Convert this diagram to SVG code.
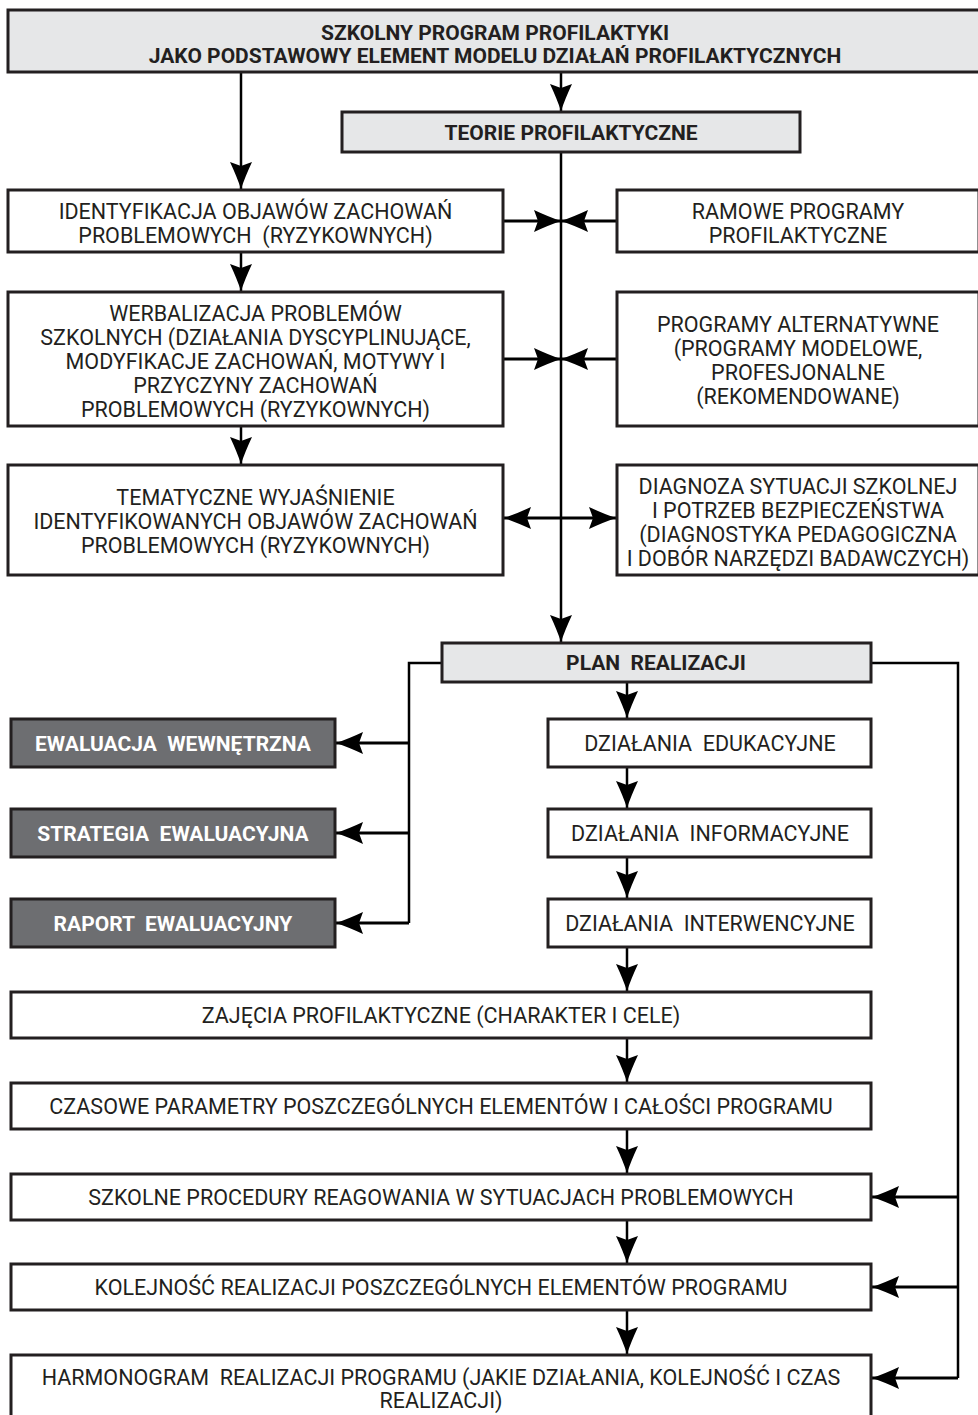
<svg xmlns="http://www.w3.org/2000/svg" width="978" height="1415" viewBox="0 0 978 1415" xml:space="preserve">
<defs>
<style>
.box{fill:#ffffff;stroke:#231f20;stroke-width:3}
.gray{fill:#e6e7e8;stroke:#231f20;stroke-width:3}
.dark{fill:#6d6e71;stroke:#231f20;stroke-width:3}
.t{font-family:Roboto,"Liberation Sans",sans-serif;font-size:21.5px;fill:#231f20;text-anchor:middle;white-space:pre}
.b{font-family:Roboto,"Liberation Sans",sans-serif;font-size:21px;font-weight:bold;fill:#231f20;text-anchor:middle;white-space:pre}
.w{font-family:Roboto,"Liberation Sans",sans-serif;font-size:21px;font-weight:bold;fill:#ffffff;text-anchor:middle;white-space:pre}
.c{fill:none;stroke:#000000;stroke-width:2.5}
.h{fill:none;stroke:#000000;stroke-width:3}
</style>
<marker id="ah" viewBox="-28 -12 29 24" refX="0" refY="0" markerWidth="29" markerHeight="24" markerUnits="userSpaceOnUse" orient="auto-start-reverse">
<path d="M0,0 Q-12,-4 -27,-11 L-23,0 L-27,11 Q-12,4 0,0 Z" fill="#000000"/>
</marker>
</defs>
<g id="connectors">
<path class="c" d="M241,72 V189" marker-end="url(#ah)"/>
<path class="c" d="M561,72 V111" marker-end="url(#ah)"/>
<path class="c" d="M561,152 V642" marker-end="url(#ah)"/>
<path class="h" d="M503,221 H561" marker-end="url(#ah)"/>
<path class="h" d="M617,221 H561" marker-end="url(#ah)"/>
<path class="h" d="M503,359 H561" marker-end="url(#ah)"/>
<path class="h" d="M617,359 H561" marker-end="url(#ah)"/>
<path class="h" d="M504,518 H616" marker-start="url(#ah)" marker-end="url(#ah)"/>
<path class="c" d="M241,252 V291" marker-end="url(#ah)"/>
<path class="c" d="M241,426 V464" marker-end="url(#ah)"/>
<path class="c" d="M442,663 H409 V923"/>
<path class="h" d="M409,743 H336" marker-end="url(#ah)"/>
<path class="h" d="M409,833 H336" marker-end="url(#ah)"/>
<path class="h" d="M409,923 H336" marker-end="url(#ah)"/>
<path class="c" d="M871,663 H958 V1378"/>
<path class="h" d="M958,1197 H872" marker-end="url(#ah)"/>
<path class="h" d="M958,1287 H872" marker-end="url(#ah)"/>
<path class="h" d="M958,1378 H872" marker-end="url(#ah)"/>
<path class="c" d="M627,682 V718" marker-end="url(#ah)"/>
<path class="c" d="M627,767 V808" marker-end="url(#ah)"/>
<path class="c" d="M627,857 V898" marker-end="url(#ah)"/>
<path class="c" d="M627,947 V991" marker-end="url(#ah)"/>
<path class="c" d="M627,1038 V1082" marker-end="url(#ah)"/>
<path class="c" d="M627,1129 V1173" marker-end="url(#ah)"/>
<path class="c" d="M627,1220 V1263" marker-end="url(#ah)"/>
<path class="c" d="M627,1310 V1354" marker-end="url(#ah)"/>
</g>
<g id="n-top">
<rect class="gray" x="8" y="10" width="975" height="62"/>
<text class="b" x="495" y="40">SZKOLNY PROGRAM PROFILAKTYKI</text>
<text class="b" x="495" y="63">JAKO PODSTAWOWY ELEMENT MODELU DZIAŁAŃ PROFILAKTYCZNYCH</text>
</g>
<g id="n-teorie">
<rect class="gray" x="342" y="112" width="458" height="40"/>
<text class="b" x="571" y="140">TEORIE PROFILAKTYCZNE</text>
</g>
<g id="n-identyfikacja">
<rect class="box" x="8" y="190" width="495" height="62"/>
<text class="t" x="255.5" y="219">IDENTYFIKACJA OBJAWÓW ZACHOWAŃ</text>
<text class="t" x="255.5" y="243">PROBLEMOWYCH  (RYZYKOWNYCH)</text>
</g>
<g id="n-ramowe">
<rect class="box" x="617" y="190" width="362" height="62"/>
<text class="t" x="798" y="219">RAMOWE PROGRAMY</text>
<text class="t" x="798" y="243">PROFILAKTYCZNE</text>
</g>
<g id="n-werbalizacja">
<rect class="box" x="8" y="292" width="495" height="134"/>
<text class="t" x="255.5" y="321">WERBALIZACJA PROBLEMÓW</text>
<text class="t" x="255.5" y="345">SZKOLNYCH (DZIAŁANIA DYSCYPLINUJĄCE,</text>
<text class="t" x="255.5" y="369">MODYFIKACJE ZACHOWAŃ, MOTYWY I</text>
<text class="t" x="255.5" y="393">PRZYCZYNY ZACHOWAŃ</text>
<text class="t" x="255.5" y="417">PROBLEMOWYCH (RYZYKOWNYCH)</text>
</g>
<g id="n-alternatywne">
<rect class="box" x="617" y="292" width="362" height="134"/>
<text class="t" x="798" y="332">PROGRAMY ALTERNATYWNE</text>
<text class="t" x="798" y="356">(PROGRAMY MODELOWE,</text>
<text class="t" x="798" y="380">PROFESJONALNE</text>
<text class="t" x="798" y="404">(REKOMENDOWANE)</text>
</g>
<g id="n-tematyczne">
<rect class="box" x="8" y="465" width="495" height="110"/>
<text class="t" x="255.5" y="505">TEMATYCZNE WYJAŚNIENIE</text>
<text class="t" x="255.5" y="529">IDENTYFIKOWANYCH OBJAWÓW ZACHOWAŃ</text>
<text class="t" x="255.5" y="553">PROBLEMOWYCH (RYZYKOWNYCH)</text>
</g>
<g id="n-diagnoza">
<rect class="box" x="617" y="465" width="362" height="110"/>
<text class="t" x="798" y="494">DIAGNOZA SYTUACJI SZKOLNEJ</text>
<text class="t" x="798" y="518">I POTRZEB BEZPIECZEŃSTWA</text>
<text class="t" x="798" y="542">(DIAGNOSTYKA PEDAGOGICZNA</text>
<text class="t" x="798" y="566">I DOBÓR NARZĘDZI BADAWCZYCH)</text>
</g>
<g id="n-plan">
<rect class="gray" x="442" y="643" width="429" height="39"/>
<text class="b" x="656" y="670">PLAN  REALIZACJI</text>
</g>
<g id="n-ewal-wew">
<rect class="dark" x="11" y="719" width="324" height="48"/>
<text class="w" x="173" y="751">EWALUACJA  WEWNĘTRZNA</text>
</g>
<g id="n-strategia">
<rect class="dark" x="11" y="809" width="324" height="48"/>
<text class="w" x="173" y="841">STRATEGIA  EWALUACYJNA</text>
</g>
<g id="n-raport">
<rect class="dark" x="11" y="899" width="324" height="48"/>
<text class="w" x="173" y="931">RAPORT  EWALUACYJNY</text>
</g>
<g id="n-edukacyjne">
<rect class="box" x="548" y="719" width="323" height="48"/>
<text class="t" x="710" y="751">DZIAŁANIA  EDUKACYJNE</text>
</g>
<g id="n-informacyjne">
<rect class="box" x="548" y="809" width="323" height="48"/>
<text class="t" x="710" y="841">DZIAŁANIA  INFORMACYJNE</text>
</g>
<g id="n-interwencyjne">
<rect class="box" x="548" y="899" width="323" height="48"/>
<text class="t" x="710" y="931">DZIAŁANIA  INTERWENCYJNE</text>
</g>
<g id="n-zajecia">
<rect class="box" x="11" y="992" width="860" height="46"/>
<text class="t" x="441" y="1023">ZAJĘCIA PROFILAKTYCZNE (CHARAKTER I CELE)</text>
</g>
<g id="n-czasowe">
<rect class="box" x="11" y="1083" width="860" height="46"/>
<text class="t" x="441" y="1114">CZASOWE PARAMETRY POSZCZEGÓLNYCH ELEMENTÓW I CAŁOŚCI PROGRAMU</text>
</g>
<g id="n-procedury">
<rect class="box" x="11" y="1174" width="860" height="46"/>
<text class="t" x="441" y="1205">SZKOLNE PROCEDURY REAGOWANIA W SYTUACJACH PROBLEMOWYCH</text>
</g>
<g id="n-kolejnosc">
<rect class="box" x="11" y="1264" width="860" height="46"/>
<text class="t" x="441" y="1295">KOLEJNOŚĆ REALIZACJI POSZCZEGÓLNYCH ELEMENTÓW PROGRAMU</text>
</g>
<g id="n-harmonogram">
<rect class="box" x="11" y="1355" width="860" height="70"/>
<text class="t" x="441" y="1385">HARMONOGRAM  REALIZACJI PROGRAMU (JAKIE DZIAŁANIA, KOLEJNOŚĆ I CZAS</text>
<text class="t" x="441" y="1408">REALIZACJI)</text>
</g>
</svg>
